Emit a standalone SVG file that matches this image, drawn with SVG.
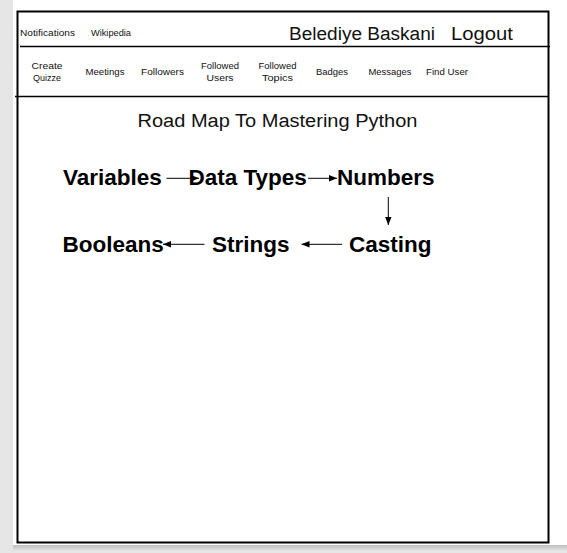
<svg xmlns="http://www.w3.org/2000/svg" width="567" height="553" viewBox="0 0 567 553">
<defs>
<style>
.hand{font-family:"Liberation Sans","DejaVu Sans",sans-serif;fill:#111;}
.nav{font-size:9px;text-anchor:middle;}
.node{font-family:"Liberation Sans",Arial,sans-serif;font-weight:bold;font-size:22.5px;fill:#000;}
.frame{fill:none;stroke:#000;stroke-width:2;}
.rule{stroke:#000;stroke-width:1.6;}
.conn{stroke:#000;stroke-width:1;fill:none;}
</style>
<linearGradient id="shadow" x1="0" y1="0" x2="0" y2="1">
<stop offset="0" stop-color="#bdbdbd"/>
<stop offset="1" stop-color="#e6e6e6"/>
</linearGradient>
<marker id="arrow" markerUnits="userSpaceOnUse" markerWidth="8" markerHeight="8" viewBox="0 0 8 8" refX="8" refY="4" orient="auto">
<path d="M0,0.8 L8,4 L0,7.2 Z" fill="#000"/>
</marker>
</defs>
<g id="background">
<rect x="0" y="0" width="567" height="553" fill="#e6e6e6"/>
<rect x="13" y="545" width="554" height="6" fill="url(#shadow)"/>
<rect x="13" y="0" width="554" height="545" fill="#fff"/>
</g>
<g id="frame">
<rect class="frame" x="17.5" y="11.5" width="531" height="531"/>
<line class="rule" x1="20" y1="46.5" x2="550" y2="46.5"/>
<line class="rule" x1="15" y1="96.5" x2="548" y2="96.5"/>
</g>
<g id="header">
<text class="hand" x="20" y="36" font-size="9" textLength="55" lengthAdjust="spacingAndGlyphs">Notifications</text>
<text class="hand" x="91" y="36" font-size="9" textLength="40" lengthAdjust="spacingAndGlyphs">Wikipedia</text>
<text class="hand" x="289" y="39.5" font-size="18" textLength="146" lengthAdjust="spacingAndGlyphs">Belediye Baskani</text>
<text class="hand" x="451" y="39.5" font-size="18" textLength="62" lengthAdjust="spacingAndGlyphs">Logout</text>
</g>
<g id="nav" class="hand nav">
<text x="47" y="69" textLength="31" lengthAdjust="spacingAndGlyphs">Create</text>
<text x="47" y="81" textLength="28" lengthAdjust="spacingAndGlyphs">Quizze</text>
<text x="105" y="75" textLength="39" lengthAdjust="spacingAndGlyphs">Meetings</text>
<text x="162.5" y="75" textLength="43" lengthAdjust="spacingAndGlyphs">Followers</text>
<text x="220" y="69" textLength="38" lengthAdjust="spacingAndGlyphs">Followed</text>
<text x="220" y="81" textLength="27" lengthAdjust="spacingAndGlyphs">Users</text>
<text x="277.5" y="69" textLength="38" lengthAdjust="spacingAndGlyphs">Followed</text>
<text x="277.5" y="81" textLength="31" lengthAdjust="spacingAndGlyphs">Topics</text>
<text x="332" y="75" textLength="32" lengthAdjust="spacingAndGlyphs">Badges</text>
<text x="390" y="75" textLength="43" lengthAdjust="spacingAndGlyphs">Messages</text>
<text x="447" y="75" textLength="42" lengthAdjust="spacingAndGlyphs">Find User</text>
</g>
<g id="title">
<text class="hand" x="137.5" y="127" font-size="18" textLength="280" lengthAdjust="spacingAndGlyphs">Road Map To Mastering Python</text>
</g>
<g id="node-variables"><text class="node" x="63" y="185">Variables</text></g>
<g id="node-datatypes"><text class="node" x="188.5" y="185">Data Types</text></g>
<g id="node-numbers"><text class="node" x="337" y="185">Numbers</text></g>
<g id="node-casting"><text class="node" x="349" y="251.5">Casting</text></g>
<g id="node-strings"><text class="node" x="212" y="251.5">Strings</text></g>
<g id="node-booleans"><text class="node" x="62.5" y="251.5">Booleans</text></g>
<g id="connectors">
<line class="conn" x1="166.5" y1="178.3" x2="199" y2="178.3" marker-end="url(#arrow)"/>
<line class="conn" x1="308" y1="178.3" x2="337" y2="178.3" marker-end="url(#arrow)"/>
<line class="conn" x1="388.3" y1="197" x2="388.3" y2="225" marker-end="url(#arrow)"/>
<line class="conn" x1="342" y1="244.3" x2="301.5" y2="244.3" marker-end="url(#arrow)"/>
<line class="conn" x1="204.5" y1="244.3" x2="163" y2="244.3" marker-end="url(#arrow)"/>
</g>
</svg>
